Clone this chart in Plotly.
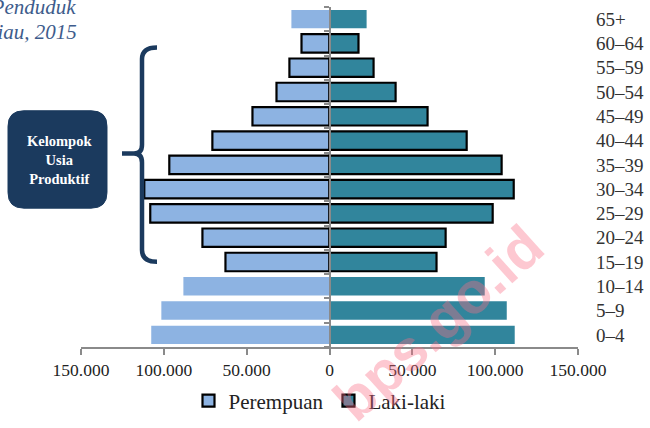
import plotly.graph_objects as go

age_groups = ["0–4", "5–9", "10–14", "15–19", "20–24", "25–29", "30–34",
              "35–39", "40–44", "45–49", "50–54", "55–59", "60–64", "65+"]
perempuan = [107600, 101500, 88200, 62800, 76700, 108200, 111800,
             96700, 70700, 46500, 32000, 24200, 16900, 23000]
laki_laki = [111800, 107000, 93700, 64600, 70100, 98500, 111200,
             103900, 82800, 59200, 39900, 26600, 17500, 22400]
productive = ["15–19", "20–24", "25–29", "30–34", "35–39", "40–44",
              "45–49", "50–54", "55–59", "60–64"]
x_ticks = [-150000, -100000, -50000, 0, 50000, 100000, 150000]
x_tick_text = ["150.000", "100.000", "50.000", "0", "50.000", "100.000", "150.000"]

FEM = "#8db3e2"
MAL = "#31859c"
NAVY = "#1b3a5e"
FONT = "Liberation Serif"

# plot area in pixels
L, R, T, B = 81, 578, 6.5, 355.5
W, H = 650, 428


def px(xp, yp):
    return (xp - L) / (R - L), (B - yp) / (B - T)


fig = go.Figure()

for name, vals, col, sign in [("Perempuan", perempuan, FEM, -1),
                              ("Laki-laki", laki_laki, MAL, 1)]:
    prod_y = [a for a in age_groups if a in productive]
    prod_x = [sign * v for a, v in zip(age_groups, vals) if a in productive]
    oth_y = [a for a in age_groups if a not in productive]
    oth_x = [sign * v for a, v in zip(age_groups, vals) if a not in productive]
    fig.add_trace(go.Bar(y=prod_y, x=prod_x, orientation="h", name=name,
                         marker=dict(color=col, line=dict(color="black", width=2.2)),
                         showlegend=True))
    fig.add_trace(go.Bar(y=oth_y, x=oth_x, orientation="h", name=name,
                         marker=dict(color=col, line=dict(width=0)),
                         showlegend=False))

# invisible trace for the category-axis line at x=0
fig.add_trace(go.Scatter(x=[0], y=[0], yaxis="y2", mode="markers",
                         marker=dict(opacity=0), showlegend=False, hoverinfo="skip"))

shapes = []


def path_from(points):
    s = ""
    for cmd, pts in points:
        s += cmd
        s += " ".join("%.5f,%.5f" % px(*p) for p in pts) + " "
    return s.strip()


# bracket
bracket = [("M", [(157, 48)]), ("Q", [(142, 48), (142, 60)]), ("L", [(142, 148)]),
           ("Q", [(142, 157), (134, 157)]), ("L", [(122, 157)]),
           ("M", [(134, 157)]), ("Q", [(142, 157), (142, 166)]), ("L", [(142, 256)]),
           ("Q", [(142, 268), (157, 268)])]
shapes.append(dict(type="path", xref="paper", yref="paper", path=path_from(bracket),
                   line=dict(color=NAVY, width=4.5)))

# rounded box
x0, x1, y0, y1, r = 8, 107, 113, 213, 16
box = [("M", [(x0 + r, y0)]), ("L", [(x1 - r, y0)]), ("Q", [(x1, y0), (x1, y0 + r)]),
       ("L", [(x1, y1 - r)]), ("Q", [(x1, y1), (x1 - r, y1)]), ("L", [(x0 + r, y1)]),
       ("Q", [(x0, y1), (x0, y1 - r)]), ("L", [(x0, y0 + r)]), ("Q", [(x0, y0), (x0 + r, y0)])]
shapes.append(dict(type="path", xref="paper", yref="paper", path=path_from(box) + " Z",
                   fillcolor=NAVY, line=dict(color=NAVY, width=1)))

annotations = []
bx, by = px(59, 164)
annotations.append(dict(xref="paper", yref="paper", x=bx, y=by, xanchor="center",
                        yanchor="middle", showarrow=False,
                        text="<b>Kelompok<br>Usia<br>Produktif</b>",
                        font=dict(family=FONT, size=14.5, color="white"), align="center"))

tx, ty = px(78, 6)
annotations.append(dict(xref="paper", yref="paper", x=tx, y=ty, xanchor="right", yanchor="middle",
                        showarrow=False, text="<i>Piramida Penduduk</i>",
                        font=dict(family=FONT, size=21, color="#3e5c8c")))
tx, ty = px(79, 32)
annotations.append(dict(xref="paper", yref="paper", x=tx, y=ty, xanchor="right", yanchor="middle",
                        showarrow=False, text="<i>Provinsi Riau, 2015</i>",
                        font=dict(family=FONT, size=21, color="#3e5c8c")))

wx, wy = px(438, 330)
annotations.append(dict(xref="paper", yref="paper", x=wx, y=wy, xanchor="center",
                        yanchor="middle", showarrow=False,
                        text="<b>bps.go.id</b>", textangle=-42,
                        font=dict(family="Liberation Sans", size=58,
                                  color="rgba(250,110,135,0.38)")))

lx, ly = px(320, 411)

fig.update_layout(
    width=W, height=H,
    margin=dict(l=L, r=W - R, t=T, b=H - B),
    paper_bgcolor="white", plot_bgcolor="white",
    barmode="overlay", bargap=0.24,
    font=dict(family=FONT, color="#222222"),
    xaxis=dict(range=[-150000, 150000], tickvals=x_ticks, ticktext=x_tick_text,
               showgrid=False, zeroline=False, showline=True, linecolor="#8a8a8a",
               linewidth=1.5, ticks="outside", ticklen=6, tickcolor="#8a8a8a",
               tickwidth=1.5, tickfont=dict(size=17.5, family=FONT, color="#222")),
    yaxis=dict(type="category", categoryorder="array", categoryarray=age_groups,
               range=[-0.5, len(age_groups) - 0.5], side="right", showgrid=False,
               showline=False, ticks="", ticklabelstandoff=17,
               tickfont=dict(size=19, family=FONT, color="#333")),
    yaxis2=dict(overlaying="y", anchor="free", position=0.5, side="left",
                range=[-0.5, len(age_groups) - 0.5],
                tickvals=[i - 0.5 for i in range(len(age_groups) + 1)],
                showticklabels=False, showgrid=False, zeroline=False,
                showline=True, linecolor="#8a8a8a", linewidth=1.5,
                ticks="outside", ticklen=5, tickcolor="#8a8a8a", tickwidth=1.5),
    legend=dict(orientation="h", x=lx, y=ly, xanchor="center", yanchor="middle",
                font=dict(size=21, family=FONT, color="#222"), bgcolor="rgba(0,0,0,0)",
                traceorder="normal", itemwidth=30),
    shapes=shapes, annotations=annotations,
)

fig.write_html("out.html")
